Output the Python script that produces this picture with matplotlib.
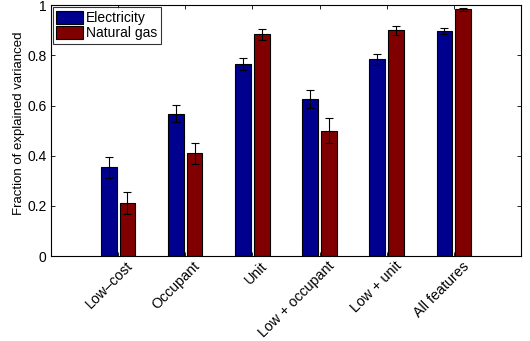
import matplotlib
matplotlib.use("Agg")
import matplotlib.pyplot as plt
import matplotlib.transforms as mtransforms
import numpy as np

plt.rcParams['font.family'] = ['Liberation Sans', 'DejaVu Sans']

categories = ["Low–cost", "Occupant", "Unit", "Low + occupant", "Low + unit", "All features"]
electricity = [0.353, 0.568, 0.765, 0.627, 0.784, 0.896]
electricity_err = [0.040, 0.035, 0.023, 0.035, 0.022, 0.012]
gas = [0.212, 0.409, 0.883, 0.500, 0.900, 0.984]
gas_err = [0.045, 0.043, 0.023, 0.050, 0.018, 0.006]

fig = plt.figure(figsize=(5.30, 3.41), dpi=100)
ax = fig.add_axes([0.096, 0.249, 0.887, 0.736])

x = np.arange(1, len(categories) + 1)
off = 0.14
w = 0.235
ax.bar(x - off, electricity, w, color=(0, 0, 0.5625), edgecolor='black', linewidth=0.8,
       label='Electricity', zorder=2)
ax.bar(x + off, gas, w, color=(0.5, 0, 0), edgecolor='black', linewidth=0.8,
       label='Natural gas', zorder=2)
ax.errorbar(x - off, electricity, yerr=electricity_err, fmt='none', ecolor='black',
            elinewidth=0.8, capsize=3, capthick=0.8, zorder=3)
ax.errorbar(x + off, gas, yerr=gas_err, fmt='none', ecolor='black',
            elinewidth=0.8, capsize=3, capthick=0.8, zorder=3)

ax.set_xlim(0, 7)
ax.set_ylim(0, 1)
ax.set_xticks(x)
ax.set_xticklabels([''] * len(categories))
trans = ax.get_xaxis_transform() + mtransforms.ScaledTranslation(8 / 100, -3 / 100, fig.dpi_scale_trans)
for xi, lab in zip(x, categories):
    ax.text(xi, 0, lab, transform=trans, rotation=45, ha='right', va='top',
            rotation_mode='anchor', fontsize=10.3)
ax.set_yticks([0, 0.2, 0.4, 0.6, 0.8, 1])
ax.set_yticklabels(['0', '0.2', '0.4', '0.6', '0.8', '1'], fontsize=10)
ax.tick_params(direction='in', top=True, right=True, length=3, width=0.6, pad=3)
ax.set_ylabel('Fraction of explained varianced', fontsize=9.5)
ax.yaxis.set_label_coords(-0.055, 0.53)
for s in ax.spines.values():
    s.set_linewidth(0.8)

leg = ax.legend(loc='upper left', fontsize=10, frameon=True, fancybox=False,
                edgecolor='black', borderaxespad=0.15, handlelength=1.9, handleheight=1.1,
                labelspacing=0.05, borderpad=0.25, handletextpad=0.25)
leg.get_frame().set_linewidth(0.8)

fig.savefig('out.png', dpi=100)
